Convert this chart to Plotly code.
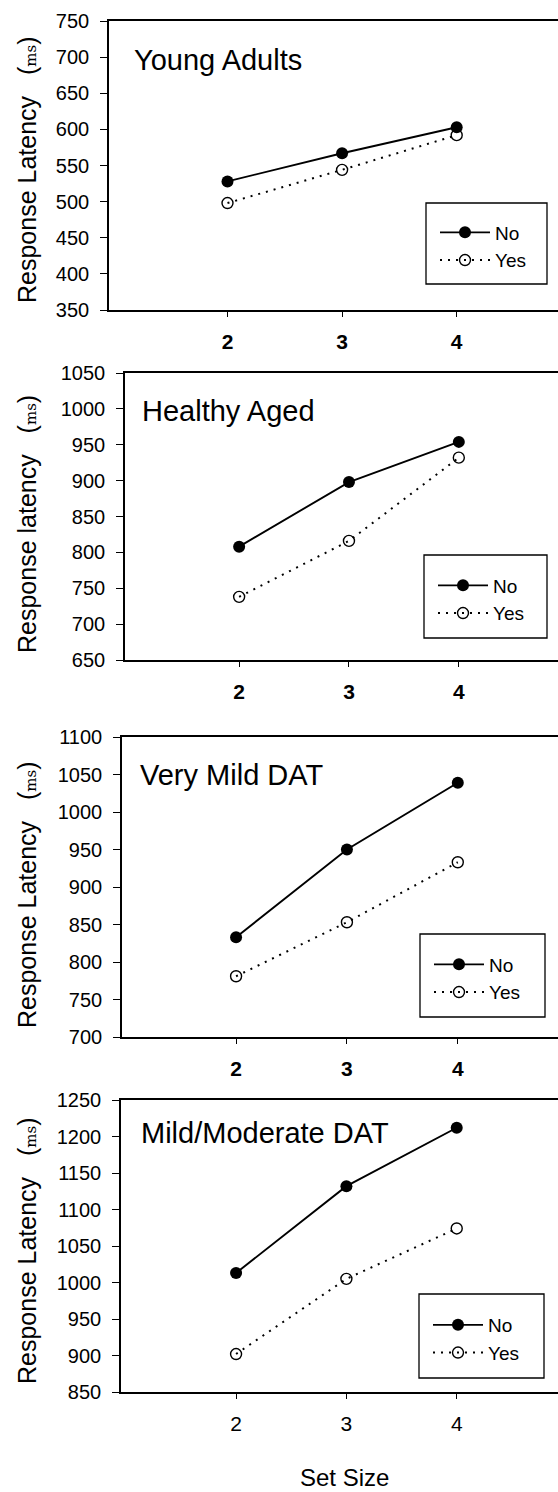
import plotly.graph_objects as go

W, H = 558, 1492

set_sizes = [2, 3, 4]
set_size_ticks = ["2", "3", "4"]

panel_titles = ["Young Adults", "Healthy Aged", "Very Mild DAT", "Mild/Moderate DAT"]
y_titles = ["Response Latency", "Response latency", "Response Latency", "Response Latency"]

young_no = [528, 567, 603]
young_yes = [498, 544, 592]
healthy_no = [808, 898, 954]
healthy_yes = [738, 816, 932]
vmild_no = [833, 950, 1039]
vmild_yes = [781, 853, 933]
mm_no = [1013, 1132, 1212]
mm_yes = [902, 1005, 1074]

no_series = [young_no, healthy_no, vmild_no, mm_no]
yes_series = [young_yes, healthy_yes, vmild_yes, mm_yes]

y_ranges = [[350, 750], [650, 1050], [700, 1100], [850, 1250]]

# layout geometry (pixels)
panels = [
    dict(left=109, top=21, bottom=310, xr=[0.966, 4.884], box=(426, 203, 547, 284), title=(132, 60), ytc=170, bold=True),
    dict(left=125, top=373, bottom=660, xr=[0.961, 4.903], box=(424, 555, 547, 638), title=(140, 411), ytc=524, bold=True),
    dict(left=122, top=737, bottom=1037, xr=[0.971, 4.904], box=(420, 934, 545, 1017), title=(138, 775), ytc=895, bold=True),
    dict(left=121, top=1100, bottom=1392, xr=[0.957, 4.918], box=(419, 1294, 544, 1378), title=(139, 1133), ytc=1251, bold=False),
]

FONT = "Arial, Liberation Sans, sans-serif"

fig = go.Figure()
layout = dict(
    width=W, height=H,
    margin=dict(l=0, r=0, t=0, b=0, autoexpand=False),
    paper_bgcolor="white", plot_bgcolor="white",
    font=dict(family=FONT, color="black"),
    annotations=[], shapes=[],
)

for i, p in enumerate(panels):
    n = "" if i == 0 else str(i + 1)
    xa, ya = "x" + n, "y" + n
    lg = "legend" + n
    fig.add_trace(go.Scatter(
        x=set_sizes, y=no_series[i], name="No", mode="lines+markers",
        xaxis=xa, yaxis=ya, legend=lg,
        line=dict(color="black", width=1.9),
        marker=dict(symbol="circle", size=12, color="black"),
    ))
    fig.add_trace(go.Scatter(
        x=set_sizes, y=yes_series[i], name="Yes", mode="lines+markers",
        xaxis=xa, yaxis=ya, legend=lg,
        line=dict(color="black", width=2, dash="2px,6px"),
        marker=dict(symbol="circle-open", size=11, color="black", line=dict(width=1.4)),
    ))
    xdom = [p["left"] / W, 1.0]
    ydom = [1 - p["bottom"] / H, 1 - p["top"] / H]
    layout["xaxis" + n] = dict(
        domain=xdom, range=p["xr"], anchor=ya,
        tickvals=set_sizes, ticktext=set_size_ticks,
        showline=True, linecolor="black", linewidth=1.6, mirror=True,
        ticks="outside", ticklen=5, tickwidth=1.4, tickcolor="black",
        showgrid=False, zeroline=False, automargin=False,
        tickfont=dict(size=21, family=FONT, weight="bold" if p["bold"] else "normal"),
        ticklabelstandoff=7,
    )
    layout["yaxis" + n] = dict(
        domain=ydom, range=y_ranges[i], anchor=xa, dtick=50,
        showline=True, linecolor="black", linewidth=1.6, mirror=False,
        ticks="outside", ticklen=7, tickwidth=1.4, tickcolor="black",
        showgrid=False, zeroline=False, automargin=False,
        tickfont=dict(size=20, family=FONT),
        ticklabelstandoff=7,
    )
    bx0, by0, bx1, by1 = p["box"]
    layout["shapes"].append(dict(
        type="rect", xref="paper", yref="paper",
        x0=bx0 / W, x1=bx1 / W, y0=1 - by1 / H, y1=1 - by0 / H,
        line=dict(color="black", width=1.3), fillcolor="white", layer="below",
    ))
    layout[lg] = dict(
        x=(bx0 + 9) / W, y=1 - ((by0 + by1) / 2 + 3) / H, xanchor="left", yanchor="middle",
        xref="paper", yref="paper",
        bgcolor="rgba(0,0,0,0)", borderwidth=0,
        font=dict(size=19, family=FONT),
        traceorder="normal", itemwidth=50,
    )
    tx, ty = p["title"]
    layout["annotations"].append(dict(
        text=panel_titles[i], x=tx / W, y=1 - ty / H, xref="paper", yref="paper",
        xanchor="left", yanchor="middle", showarrow=False,
        font=dict(size=29, family=FONT),
    ))
    layout["annotations"].append(dict(
        text=y_titles[i] + "\u00a0\u00a0\u00a0(<span style='font-family:DejaVu Serif;font-size:15px'>ms</span>)",
        x=27 / W, y=1 - p["ytc"] / H, xref="paper", yref="paper",
        xanchor="center", yanchor="middle", textangle=-90, showarrow=False,
        font=dict(size=25, family=FONT),
    ))

layout["annotations"].append(dict(
    text="Set Size", x=344 / W, y=1 - 1477 / H, xref="paper", yref="paper",
    xanchor="center", yanchor="middle", showarrow=False,
    font=dict(size=24, family=FONT),
))

fig.update_layout(**layout)
fig.write_html(
    "out.html",
    config={"displayModeBar": False},
    post_script="document.body.style.margin='0';document.body.style.overflow='hidden';",
)
